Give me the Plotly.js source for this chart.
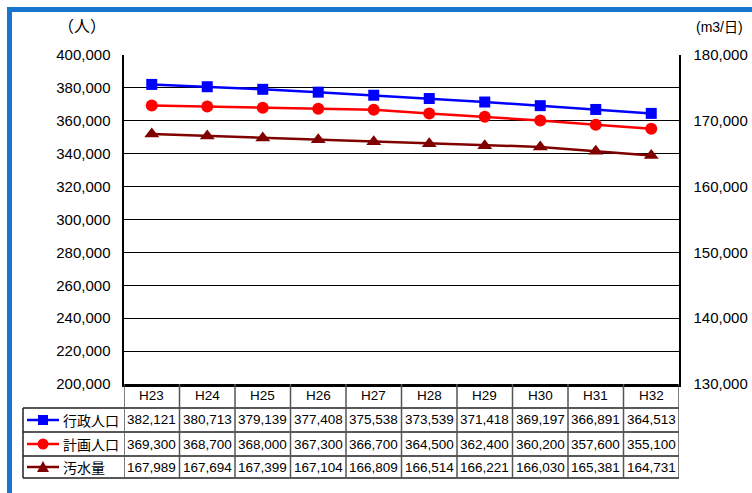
<!DOCTYPE html>
<html>
<head>
<meta charset="utf-8">
<script src="https://cdn.plot.ly/plotly-3.0.1.min.js"></script>
<style>
html,body{margin:0;padding:0;background:#fff;}
#chart{width:752px;height:493px;}
</style>
</head>
<body>
<div id="chart"></div>
<script>
var categories = ['H23','H24','H25','H26','H27','H28','H29','H30','H31','H32'];
var gyoseiJinko = [382121,380713,379139,377408,375538,373539,371418,369197,366891,364513];
var keikakuJinko = [369300,368700,368000,367300,366700,364500,362400,360200,357600,355100];
var osuiryo = [167989,167694,167399,167104,166809,166514,166221,166030,165381,164731];
var seriesNames = ['行政人口','計画人口','汚水量'];
var seriesColors = ['#0000ff','#ff0000','#800000'];
var leftTicks = [200000,220000,240000,260000,280000,300000,320000,340000,360000,380000,400000];
var rightTicks = [130000,140000,150000,160000,170000,180000];

function fmt(v){ return v.toLocaleString('en-US'); }

var W = 752, H = 493, L = 124, R = 679, T = 55, B = 384;
function px2x(p){ return (p - L) / (R - L); }
function px2y(p){ return (B - p) / (B - T); }

var numFont = {family:'Liberation Sans, Arial, sans-serif', size:13.5, color:'#000'};
var tickFont = {family:'Liberation Sans, Arial, sans-serif', size:15, color:'#000'};
var cjkFont = {family:'Noto Sans CJK JP, sans-serif', size:14, color:'#000'};

var traces = [
  {x:categories, y:gyoseiJinko, type:'scatter', mode:'lines+markers', name:seriesNames[0],
   line:{color:seriesColors[0], width:2.5}, marker:{symbol:'square', size:11, color:seriesColors[0]}, yaxis:'y'},
  {x:categories, y:keikakuJinko, type:'scatter', mode:'lines+markers', name:seriesNames[1],
   line:{color:seriesColors[1], width:2.5}, marker:{symbol:'circle', size:12, color:seriesColors[1]}, yaxis:'y'},
  {x:categories, y:osuiryo, type:'scatter', mode:'lines+markers', name:seriesNames[2],
   line:{color:seriesColors[2], width:2.5}, marker:{symbol:'triangle-up', size:13, color:seriesColors[2]}, yaxis:'y2'}
];

var rowTops = [408, 432, 456, 478];
var rowCenters = [420, 444, 467];
var annotations = [];
var shapes = [];

// category labels
categories.forEach(function(c, i){
  annotations.push({x:i, xref:'x', y:px2y(396), yref:'paper', text:c, showarrow:false,
    font:numFont, xanchor:'center', yanchor:'middle'});
});
// table values
var tableData = [gyoseiJinko, keikakuJinko, osuiryo];
tableData.forEach(function(arr, r){
  arr.forEach(function(v, i){
    annotations.push({x:i, xref:'x', y:px2y(rowCenters[r]), yref:'paper', text:fmt(v), showarrow:false,
      font:numFont, xanchor:'center', yanchor:'middle'});
  });
  annotations.push({x:px2x(61), xref:'paper', y:px2y(rowCenters[r]), yref:'paper', text:seriesNames[r], showarrow:false,
    font:cjkFont, xanchor:'left', yanchor:'middle'});
  shapes.push({type:'line', xref:'paper', yref:'paper', x0:px2x(27), x1:px2x(59),
    y0:px2y(rowCenters[r]), y1:px2y(rowCenters[r]), line:{color:seriesColors[r], width:2.5}});
});
// legend markers
var mx = px2x(43);
shapes.push({type:'rect', xref:'paper', yref:'paper', xsizemode:'pixel', ysizemode:'pixel',
  xanchor:mx, yanchor:px2y(rowCenters[0]), x0:-5, x1:5, y0:-5, y1:5,
  fillcolor:seriesColors[0], line:{width:0}});
shapes.push({type:'circle', xref:'paper', yref:'paper', xsizemode:'pixel', ysizemode:'pixel',
  xanchor:mx, yanchor:px2y(rowCenters[1]), x0:-5.5, x1:5.5, y0:-5.5, y1:5.5,
  fillcolor:seriesColors[1], line:{width:0}});
shapes.push({type:'path', xref:'paper', yref:'paper', xsizemode:'pixel', ysizemode:'pixel',
  xanchor:mx, yanchor:px2y(rowCenters[2]), path:'M-6,-5 L6,-5 L0,6 Z',
  fillcolor:seriesColors[2], line:{width:0}});

// table horizontal lines
rowTops.forEach(function(y){
  shapes.push({type:'line', xref:'paper', yref:'paper', x0:px2x(23), x1:1, y0:px2y(y), y1:px2y(y),
    line:{color:'#222', width:1.5}});
});
// table vertical lines
for (var i = 0; i <= categories.length; i++) {
  shapes.push({type:'line', xref:'x', yref:'paper', x0:i-0.5, x1:i-0.5, y0:0, y1:px2y(478),
    line:{color:'#555', width:1.5}});
}
shapes.push({type:'line', xref:'paper', yref:'paper', x0:px2x(23), x1:px2x(23), y0:px2y(408), y1:px2y(478),
  line:{color:'#222', width:1.5}});

// outer blue frame (top and left)
shapes.push({type:'line', xref:'paper', yref:'paper', x0:px2x(9.5), x1:px2x(9.5), y0:px2y(7), y1:px2y(500),
  line:{color:'#1874cd', width:5}});
shapes.push({type:'line', xref:'paper', yref:'paper', x0:px2x(7), x1:px2x(760), y0:px2y(9.5), y1:px2y(9.5),
  line:{color:'#1874cd', width:5}});

// unit labels
annotations.push({x:px2x(82), xref:'paper', y:px2y(25), yref:'paper', text:'（人）', showarrow:false,
  font:{family:'Noto Sans CJK JP, sans-serif', size:16, color:'#000'}, xanchor:'center', yanchor:'middle'});
annotations.push({x:px2x(719), xref:'paper', y:px2y(27), yref:'paper', text:'(m3/日)', showarrow:false,
  font:{family:'Liberation Sans, Noto Sans CJK JP, sans-serif', size:14, color:'#000'}, xanchor:'center', yanchor:'middle'});

var layout = {
  width:W, height:H,
  margin:{l:L, r:W-R, t:T, b:H-B, pad:0},
  paper_bgcolor:'#fff', plot_bgcolor:'#fff',
  showlegend:false, hovermode:false,
  xaxis:{type:'category', range:[-0.5, categories.length-0.5], showticklabels:false, ticks:'',
    showgrid:false, zeroline:false, showline:true, linecolor:'#000', linewidth:2.5, fixedrange:true},
  yaxis:{range:[200000,400000], tickvals:leftTicks, ticktext:leftTicks.map(fmt), tickfont:tickFont,
    showgrid:true, gridcolor:'#000', gridwidth:1, zeroline:false, showline:true, linecolor:'#000', linewidth:2.5,
    ticks:'inside', ticklen:5, tickcolor:'#000', ticklabelstandoff:8, fixedrange:true},
  yaxis2:{range:[130000,180000], tickvals:rightTicks, ticktext:rightTicks.map(fmt), tickfont:tickFont,
    overlaying:'y', side:'right', showgrid:false, zeroline:false, showline:true, linecolor:'#000', linewidth:1.5,
    ticks:'', ticklabelstandoff:10, fixedrange:true},
  annotations:annotations,
  shapes:shapes
};

Plotly.newPlot('chart', traces, layout, {displayModeBar:false, staticPlot:true});
</script>
</body>
</html>
